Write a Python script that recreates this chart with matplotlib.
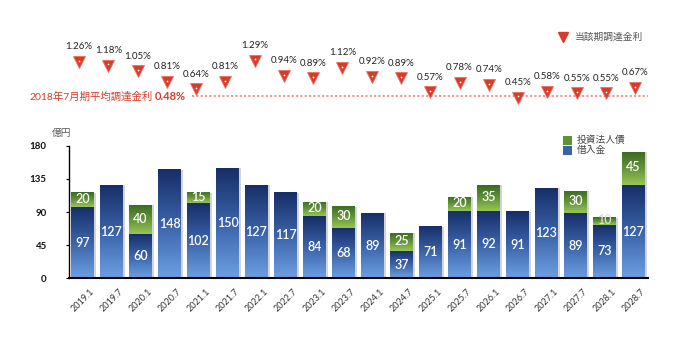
import matplotlib
matplotlib.use("Agg")
import matplotlib.pyplot as plt
import numpy as np
from matplotlib.colors import LinearSegmentedColormap
from matplotlib.transforms import blended_transform_factory

plt.rcParams['font.family'] = ['Lato', 'Noto Sans CJK JP', 'DejaVu Sans']

periods = ["2019.1", "2019.7", "2020.1", "2020.7", "2021.1", "2021.7", "2022.1", "2022.7",
           "2023.1", "2023.7", "2024.1", "2024.7", "2025.1", "2025.7", "2026.1", "2026.7",
           "2027.1", "2027.7", "2028.1", "2028.7"]
loans = [97, 127, 60, 148, 102, 150, 127, 117, 84, 68, 89, 37, 71, 91, 92, 91, 123, 89, 73, 127]
bonds = [20, 0, 40, 0, 15, 0, 0, 0, 20, 30, 0, 25, 0, 20, 35, 0, 0, 30, 10, 45]
rates = [1.26, 1.18, 1.05, 0.81, 0.64, 0.81, 1.29, 0.94, 0.89, 1.12, 0.92, 0.89, 0.57, 0.78,
         0.74, 0.45, 0.58, 0.55, 0.55, 0.67]
avg_rate = 0.48
yticks = [0, 45, 90, 135, 180]

W, H = 680, 350
fig = plt.figure(figsize=(6.8, 3.5), dpi=100)


def fx(px):
    return px / W


def fy(py):
    return 1 - py / H


# ---- bar axes ----
ax = fig.add_axes([fx(69), fy(278.3), fx(648 - 69), (278.3 - 145.7) / H])
x = np.arange(len(periods))
bw = 0.79

blue_cmap = LinearSegmentedColormap.from_list("b", ["#6d9fe2", "#3a62a8", "#162d66"])
green_cmap = LinearSegmentedColormap.from_list("g", ["#98c655", "#62933a", "#3a6922"])
grad = np.linspace(0, 1, 256).reshape(-1, 1)


def grad_bar(xc, bottom, height, cmap):
    if height <= 0:
        return
    ax.bar(xc + 0.06, height, bw, bottom=bottom - 0.8, color="#d4d4d4", zorder=1, linewidth=0)
    bar = ax.bar(xc, height, bw, bottom=bottom, color="none", zorder=2, linewidth=0)[0]
    im = ax.imshow(grad, cmap=cmap, aspect="auto", origin="lower",
                   extent=[xc - bw / 2, xc + bw / 2, bottom, bottom + height], zorder=2)
    im.set_clip_path(bar)


for i in range(len(periods)):
    grad_bar(x[i], 0, loans[i], blue_cmap)
    grad_bar(x[i], loans[i], bonds[i], green_cmap)
    ax.text(x[i], loans[i] / 2, str(loans[i]), color="white", ha="center", va="center",
            fontsize=9, fontweight="semibold", zorder=5)
    if bonds[i] > 0:
        c = "#dcdcdc" if bonds[i] == 10 else "white"
        ax.text(x[i], loans[i] + bonds[i] / 2 + 1, str(bonds[i]), color=c, ha="center",
                va="center", fontsize=9, fontweight="semibold", zorder=5)

ax.set_xlim(-0.466, 19.5)
ax.set_ylim(0, 180)
ax.set_yticks(yticks)
ax.set_yticklabels([str(v) for v in yticks], fontsize=7, fontweight="bold", color="#111111")
ax.set_xticks(x)
ax.set_xticklabels(periods, rotation=45, ha="center", fontsize=6.5, color="#333333")
ax.tick_params(axis="x", length=0, pad=6)
ax.tick_params(axis="y", length=2, width=0.8, pad=14)
for s in ["top", "right"]:
    ax.spines[s].set_visible(False)
ax.spines["left"].set_linewidth(1.0)
ax.spines["bottom"].set_linewidth(1.5)
ax.set_facecolor("none")

fig.text(fx(52), fy(133), "億円", fontsize=7, color="#555555", va="center", ha="left")

# bar legend
fig.patches.append(plt.Rectangle((fx(562.5), fy(145)), fx(9), 9 / H, transform=fig.transFigure,
                                 facecolor="#5f9135", edgecolor="none"))
fig.patches.append(plt.Rectangle((fx(562.5), fy(155)), fx(9), 9 / H, transform=fig.transFigure,
                                 facecolor="#3b63aa", edgecolor="none"))
fig.text(fx(577), fy(140.5), "投資法人債", fontsize=7, color="#444444", va="center")
fig.text(fx(577), fy(150.5), "借入金", fontsize=7, color="#444444", va="center")

# ---- rate axes ----
rx = fig.add_axes([fx(69), fy(110), fx(648 - 69), 80 / H])
rx.set_xlim(-0.342, 19.44)
rx.set_ylim(0.17, 1.99)
rx.axis("off")
rx.set_facecolor("none")
red = "#d83b2b"
rx.plot(x, rates, linestyle="none", marker="v", markersize=9, color=red,
        markeredgecolor="#e8705f", markeredgewidth=0.6, zorder=3)
rx.plot(x, np.array(rates) + 0.03, linestyle="none", marker="o", markersize=1.3, color="white",
        markeredgewidth=0, zorder=4)
for i, r in enumerate(rates):
    rx.annotate(f"{r:.2f}%", (x[i], r), xytext=(0, 11), textcoords="offset points",
                ha="center", va="center", fontsize=7, color="#222222")

# average line
bt = blended_transform_factory(fig.transFigure, rx.transData)
rx.plot([fx(192), fx(649)], [avg_rate, avg_rate], transform=bt, color="#ec8f86",
        linestyle=(0, (1.2, 1.2)), linewidth=1.3, zorder=1)
rx.text(fx(153), avg_rate, "2018年7月期平均調達金利", transform=bt, ha="right", va="center",
        fontsize=7.5, color=red)
rx.text(fx(155), avg_rate, f"{avg_rate:.2f}%", transform=bt, ha="left", va="center",
        fontsize=8, color=red, fontweight="bold")

# rate legend
fig.lines.append(plt.Line2D([fx(563)], [fy(37)], transform=fig.transFigure, marker="v",
                            markersize=7, color=red, linestyle="none"))
fig.text(fx(575), fy(37), "当該期調達金利", fontsize=7, color="#555555", va="center")

fig.savefig("out.png", dpi=100)
